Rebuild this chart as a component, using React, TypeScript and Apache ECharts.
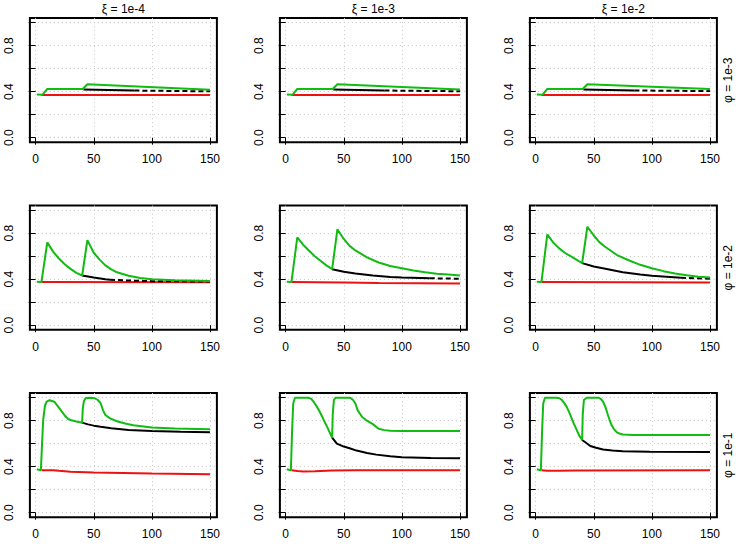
import React, { useEffect, useRef } from "react";
import * as echarts from "echarts";

const xTicks = [0, 50, 100, 150];
const yTicks = [0, 0.2, 0.4, 0.6, 0.8, 1];
const yLabelValues = [0, 0.4, 0.8];
const columnTitles = ["ξ = 1e-4", "ξ = 1e-3", "ξ = 1e-2"];
const rowTitles = ["φ = 1e-3", "φ = 1e-2", "φ = 1e-1"];

// Row 1 (φ = 1e-3)
const red11 = [[5, 0.372], [150, 0.372]];
const black11 = [[41, 0.42], [85, 0.41]];
const blackDash11 = [[85, 0.41], [150, 0.403]];
const green11 = [[1, 0.376], [6, 0.374], [10, 0.424], [40.5, 0.424], [44.5, 0.465], [150, 0.418]];

const red12 = [[5, 0.372], [150, 0.372]];
const black12 = [[41, 0.42], [85, 0.41]];
const blackDash12 = [[85, 0.41], [150, 0.404]];
const green12 = [[1, 0.376], [6, 0.374], [10, 0.424], [40.5, 0.424], [44.5, 0.465], [150, 0.42]];

const red13 = [[5, 0.372], [150, 0.372]];
const black13 = [[41, 0.42], [85, 0.411]];
const blackDash13 = [[85, 0.411], [150, 0.405]];
const green13 = [[1, 0.376], [6, 0.374], [10, 0.424], [40.5, 0.424], [44.5, 0.465], [150, 0.424]];

// Row 2 (φ = 1e-2)
const red21 = [[5, 0.375], [150, 0.373]];
const black21 = [[40, 0.432], [50, 0.415], [60, 0.4], [64, 0.396]];
const blackDash21 = [[64, 0.396], [75, 0.39], [100, 0.383], [150, 0.38]];
const green21 = [[1, 0.378], [5, 0.376], [10, 0.72], [15, 0.64], [20, 0.58], [25, 0.53], [30, 0.49], [35, 0.455], [40, 0.432], [44.5, 0.74], [50, 0.63], [55, 0.57], [60, 0.52], [65, 0.485], [70, 0.46], [80, 0.43], [90, 0.41], [100, 0.4], [120, 0.39], [150, 0.385]];

const red22 = [[5, 0.375], [50, 0.372], [80, 0.366], [150, 0.363]];
const black22 = [[40, 0.487], [50, 0.465], [60, 0.45], [75, 0.432], [90, 0.42], [100, 0.415], [124, 0.408]];
const blackDash22 = [[124, 0.408], [150, 0.404]];
const green22 = [[1, 0.378], [5, 0.376], [10, 0.764], [15, 0.7], [20, 0.65], [25, 0.6], [30, 0.56], [35, 0.52], [40, 0.487], [44.5, 0.833], [50, 0.75], [55, 0.69], [60, 0.65], [70, 0.59], [80, 0.545], [90, 0.515], [100, 0.495], [110, 0.475], [120, 0.46], [130, 0.448], [140, 0.44], [150, 0.432]];

const red23 = [[5, 0.375], [150, 0.372]];
const black23 = [[40, 0.54], [50, 0.51], [60, 0.49], [75, 0.46], [90, 0.44], [100, 0.43], [125, 0.412]];
const blackDash23 = [[125, 0.412], [150, 0.404]];
const green23 = [[1, 0.378], [5, 0.376], [10, 0.79], [15, 0.72], [20, 0.67], [25, 0.63], [30, 0.6], [35, 0.57], [40, 0.54], [44.5, 0.856], [50, 0.78], [55, 0.72], [60, 0.68], [70, 0.61], [80, 0.565], [90, 0.525], [100, 0.495], [110, 0.47], [120, 0.45], [130, 0.435], [140, 0.422], [150, 0.415]];

// Row 3 (φ = 1e-1)
const red31 = [[5, 0.37], [15, 0.37], [20, 0.365], [30, 0.357], [50, 0.35], [75, 0.345], [100, 0.34], [150, 0.335]];
const black31 = [[40, 0.783], [45, 0.768], [50, 0.757], [56, 0.748], [65, 0.735], [80, 0.72], [100, 0.71], [125, 0.703], [150, 0.7]];
const blackDash31: number[][] = [];
const green31 = [[1, 0.378], [4.5, 0.37], [5.5, 0.6], [6.5, 0.81], [8, 0.93], [9.5, 0.965], [12, 0.978], [16, 0.965], [18, 0.94], [21, 0.9], [25, 0.845], [28, 0.815], [30, 0.806], [35, 0.793], [40, 0.783], [40.5, 0.9], [41.5, 0.97], [43, 0.998], [47, 1.0], [51, 0.995], [53.5, 0.98], [56, 0.95], [58, 0.89], [60, 0.85], [64, 0.82], [70, 0.795], [77, 0.775], [84, 0.76], [100, 0.74], [120, 0.733], [150, 0.725]];

const red32 = [[5, 0.37], [10, 0.362], [15, 0.358], [25, 0.36], [40, 0.366], [60, 0.37], [150, 0.37]];
const black32 = [[40, 0.652], [44, 0.6], [50, 0.575], [55, 0.56], [61, 0.54], [70, 0.52], [78, 0.505], [90, 0.49], [100, 0.483], [125, 0.476], [150, 0.473]];
const blackDash32: number[][] = [];
const green32 = [[1, 0.378], [4.5, 0.37], [5.5, 0.7], [6.5, 0.95], [8, 1.0], [19.5, 1.0], [22, 0.99], [24, 0.965], [27, 0.92], [30, 0.865], [33, 0.8], [36, 0.74], [40, 0.652], [40.5, 0.85], [41.5, 0.98], [43, 1.0], [55.5, 1.0], [58, 0.98], [60, 0.95], [62, 0.89], [66, 0.83], [70, 0.8], [75, 0.77], [80, 0.73], [85, 0.718], [90, 0.712], [100, 0.71], [150, 0.71]];

const red33 = [[5, 0.37], [10, 0.365], [20, 0.365], [35, 0.368], [150, 0.37]];
const black33 = [[40, 0.632], [43, 0.61], [47, 0.58], [52, 0.565], [58, 0.55], [66, 0.54], [75, 0.535], [98, 0.53], [150, 0.528]];
const blackDash33: number[][] = [];
const green33 = [[1, 0.378], [4.5, 0.37], [5.5, 0.7], [6.5, 0.95], [8, 1.0], [18, 1.0], [20.5, 0.995], [22.5, 0.98], [24.5, 0.955], [26.7, 0.92], [29, 0.87], [31, 0.82], [33, 0.77], [35.3, 0.72], [37.5, 0.67], [40, 0.632], [40.5, 0.85], [41.5, 0.98], [44, 1.0], [54, 1.0], [56, 0.99], [58, 0.965], [60, 0.92], [61.7, 0.865], [63.5, 0.81], [65.4, 0.76], [67.5, 0.725], [69.7, 0.7], [72, 0.688], [75, 0.68], [84, 0.675], [150, 0.675]];

const panels = [
  { red: red11, black: black11, blackDash: blackDash11, green: green11 },
  { red: red12, black: black12, blackDash: blackDash12, green: green12 },
  { red: red13, black: black13, blackDash: blackDash13, green: green13 },
  { red: red21, black: black21, blackDash: blackDash21, green: green21 },
  { red: red22, black: black22, blackDash: blackDash22, green: green22 },
  { red: red23, black: black23, blackDash: blackDash23, green: green23 },
  { red: red31, black: black31, blackDash: blackDash31, green: green31 },
  { red: red32, black: black32, blackDash: blackDash32, green: green32 },
  { red: red33, black: black33, blackDash: blackDash33, green: green33 },
];

const colLeft = [29.9, 279.9, 529.9];
const rowTop = [18.1, 205.6, 393.1];
const boxW = 187;
const boxH = 124.2;

const FONT = "Liberation Sans, Arial, Helvetica, sans-serif";
const RED = "#ee1111";
const GREEN = "#11bb11";
const BLACK = "#000000";

export default function App() {
  const ref = useRef<HTMLDivElement>(null);
  useEffect(() => {
    if (!ref.current) return;
    const chart = echarts.init(ref.current, null, { renderer: "svg" });
    const grids: any[] = [];
    const xAxes: any[] = [];
    const yAxes: any[] = [];
    const series: any[] = [];
    const graphics: any[] = [];
    panels.forEach((p, i) => {
      const r = Math.floor(i / 3);
      const c = i % 3;
      grids.push({
        left: colLeft[c],
        top: rowTop[r],
        width: boxW,
        height: boxH,
        show: true,
        borderColor: "#000",
        borderWidth: 2,
        backgroundColor: "transparent",
        containLabel: false,
      });
      xAxes.push({
        type: "value",
        gridIndex: i,
        min: -4.96,
        max: 155.96,
        axisLine: { show: false },
        axisTick: { show: true, length: 7, inside: false, customValues: xTicks, lineStyle: { color: "#000", width: 1 } },
        axisLabel: { show: true, customValues: xTicks, fontSize: 12, color: "#000", fontFamily: FONT, margin: 11 },
        splitLine: { show: true, lineStyle: { type: [1, 3], color: "#c8c8c8", width: 1 } },
      });
      yAxes.push({
        type: "value",
        gridIndex: i,
        min: -0.04,
        max: 1.04,
        axisLine: { show: false },
        axisTick: { show: true, length: 7, inside: false, customValues: yTicks, lineStyle: { color: "#000", width: 1 } },
        axisLabel: {
          show: true,
          customValues: yLabelValues,
          rotate: 90,
          fontSize: 12,
          color: "#000",
          fontFamily: FONT,
          margin: 15,
          formatter: (v: number) => v.toFixed(1),
        },
        splitLine: { show: true, lineStyle: { type: [1, 3], color: "#c8c8c8", width: 1 } },
      });
      const common = { type: "line", xAxisIndex: i, yAxisIndex: i, showSymbol: false, symbol: "none", silent: true };
      series.push({ ...common, data: p.red, lineStyle: { color: RED, width: 2 }, z: 2 });
      series.push({ ...common, data: p.black, lineStyle: { color: BLACK, width: 2 }, z: 3 });
      if (p.blackDash.length) {
        series.push({ ...common, data: p.blackDash, lineStyle: { color: BLACK, width: 2, type: [5, 3] }, z: 3 });
      }
      series.push({ ...common, data: p.green, lineStyle: { color: GREEN, width: 2 }, z: 4 });
    });
    columnTitles.forEach((t, c) => {
      graphics.push({
        type: "text",
        x: colLeft[c] + boxW / 2,
        y: 8.5,
        style: { text: t, font: `12px ${FONT}`, fill: "#000", textAlign: "center", textVerticalAlign: "middle" },
      });
    });
    rowTitles.forEach((t, r) => {
      graphics.push({
        type: "text",
        x: 728,
        y: rowTop[r] + boxH / 2,
        rotation: Math.PI / 2,
        style: { text: t, font: `12px ${FONT}`, fill: "#000", textAlign: "center", textVerticalAlign: "middle" },
      });
    });
    chart.setOption({
      animation: false,
      backgroundColor: "#ffffff",
      textStyle: { fontFamily: FONT },
      grid: grids,
      xAxis: xAxes,
      yAxis: yAxes,
      series,
      graphic: graphics,
    });
    return () => chart.dispose();
  }, []);
  return <div ref={ref} style={{ position: "absolute", left: 0, top: 0, width: 736, height: 548 }} />;
}
